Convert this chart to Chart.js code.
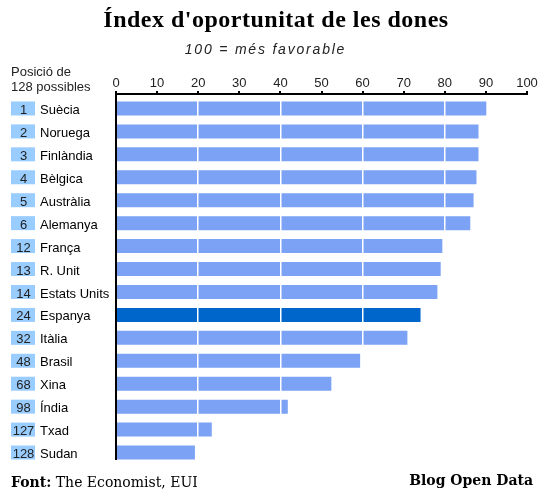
<!DOCTYPE html>
<html>
<head>
<meta charset="utf-8">
<script src="https://cdn.jsdelivr.net/npm/chart.js@4/dist/chart.umd.min.js"></script>
<style>
  html, body { margin: 0; padding: 0; background: #fff; }
  #wrap { position: relative; width: 544px; height: 495px; overflow: hidden; }
  #c { position: absolute; left: 0; top: 0; }
  .t { position: absolute; white-space: nowrap; line-height: 1; color: #000; }
  #title { left: 0; width: 544px; padding-left: 8px; box-sizing: border-box; text-align: center; top: 6px;
           font: bold 24px "Liberation Serif", serif; letter-spacing: 0.5px; }
  #subtitle { left: 0; width: 544px; padding-right: 13px; box-sizing: border-box; text-align: center; top: 41px;
           font: italic 14px "Liberation Sans", Arial, sans-serif; letter-spacing: 1.8px; color: #222; }
  #pos { left: 11px; top: 65px; font: 13px "Liberation Sans", Arial, sans-serif; line-height: 14.5px; color: #222; }
  #src { left: 11px; top: 474px; font: 14px "DejaVu Serif", serif; }
  #src b { font-weight: bold; }
  #blog { right: 11px; top: 472px; font: bold 14px "DejaVu Serif", serif; }
</style>
</head>
<body>
<div id="wrap">
  <canvas id="c" width="544" height="495"></canvas>
  <div class="t" id="title">Índex d'oportunitat de les dones</div>
  <div class="t" id="subtitle">100 = més favorable</div>
  <div class="t" id="pos">Posició de<br>128 possibles</div>
  <div class="t" id="src"><b>Font:</b> The Economist, EUI</div>
  <div class="t" id="blog">Blog Open Data</div>
</div>
<script>
const countries = ['Suècia','Noruega','Finlàndia','Bèlgica','Austràlia','Alemanya','França','R. Unit','Estats Units','Espanya','Itàlia','Brasil','Xina','Índia','Txad','Sudan'];
const ranks = [1, 2, 3, 4, 5, 6, 12, 13, 14, 24, 32, 48, 68, 98, 127, 128];
const scores = [90.1, 88.2, 88.2, 87.7, 87.0, 86.2, 79.4, 79.0, 78.2, 74.1, 70.9, 59.4, 52.4, 41.8, 23.3, 19.2];
const highlighted = 'Espanya';
const xTicks = [0, 10, 20, 30, 40, 50, 60, 70, 80, 90, 100];
const gridValues = [20, 40, 60, 80];

const barColor = '#7BA2F5';
const highlightColor = '#0066CC';
const rankBoxColor = '#99CCFF';

const axisPlugin = {
  id: 'customAxes',
  afterDatasetsDraw(chart) {
    const ctx = chart.ctx;
    const ca = chart.chartArea;
    const x = chart.scales.x;
    const lineY = ca.top - 4;
    ctx.save();
    ctx.fillStyle = '#000';
    // horizontal axis line
    ctx.fillRect(ca.left - 1, lineY, ca.right - ca.left + 2, 2);
    // vertical axis line
    ctx.fillRect(ca.left - 1, lineY, 2, ca.bottom - 4 - lineY);
    // tick marks
    xTicks.forEach(v => {
      const px = Math.round(x.getPixelForValue(v));
      ctx.fillRect(px - 1, lineY - 2, 2, 2);
    });
    ctx.restore();
  },
  afterDraw(chart) {
    const ctx = chart.ctx;
    const meta = chart.getDatasetMeta(0);
    const y = chart.scales.y;
    ctx.save();
    ctx.font = '13px "Liberation Sans", Arial, sans-serif';
    ctx.textAlign = 'center';
    ctx.textBaseline = 'middle';
    ranks.forEach((r, i) => {
      const cy = y.getPixelForValue(i);
      const h = meta.data[i].height;
      ctx.fillStyle = rankBoxColor;
      ctx.fillRect(11, cy - h / 2, 24, h);
      ctx.fillStyle = '#222';
      ctx.fillText(String(r), 23.5, cy + 2);
    });
    ctx.restore();
  }
};

new Chart(document.getElementById('c'), {
  type: 'bar',
  data: {
    labels: countries,
    datasets: [{
      data: scores,
      backgroundColor: countries.map(c => c === highlighted ? highlightColor : barColor),
      borderWidth: 0,
      barPercentage: 0.61,
      categoryPercentage: 1.0
    }]
  },
  options: {
    indexAxis: 'y',
    responsive: false,
    animation: false,
    devicePixelRatio: 1,
    layout: { padding: { left: 40, right: 17, top: 67, bottom: 31 } },
    plugins: { legend: { display: false }, tooltip: { enabled: false }, title: { display: false } },
    scales: {
      x: {
        position: 'top',
        min: 0, max: 100,
        afterFit(s) { s.height = 30; },
        afterBuildTicks(s) { s.ticks = xTicks.map(v => ({ value: v })); },
        ticks: {
          padding: 6,
          color: '#222',
          font: { family: '"Liberation Sans", Arial, sans-serif', size: 13 },
          maxRotation: 0
        },
        border: { display: false },
        grid: {
          z: 1,
          drawTicks: false,
          lineWidth: 1.5,
          color: (c) => (c.tick && gridValues.includes(c.tick.value)) ? '#ffffff' : 'rgba(0,0,0,0)'
        }
      },
      y: {
        afterFit(s) { s.width = 76; },
        ticks: {
          crossAlign: 'far',
          labelOffset: 2,
          color: '#000',
          font: { family: '"Liberation Sans", Arial, sans-serif', size: 13 }
        },
        border: { display: false },
        grid: { display: false }
      }
    }
  },
  plugins: [axisPlugin]
});
</script>
</body>
</html>
